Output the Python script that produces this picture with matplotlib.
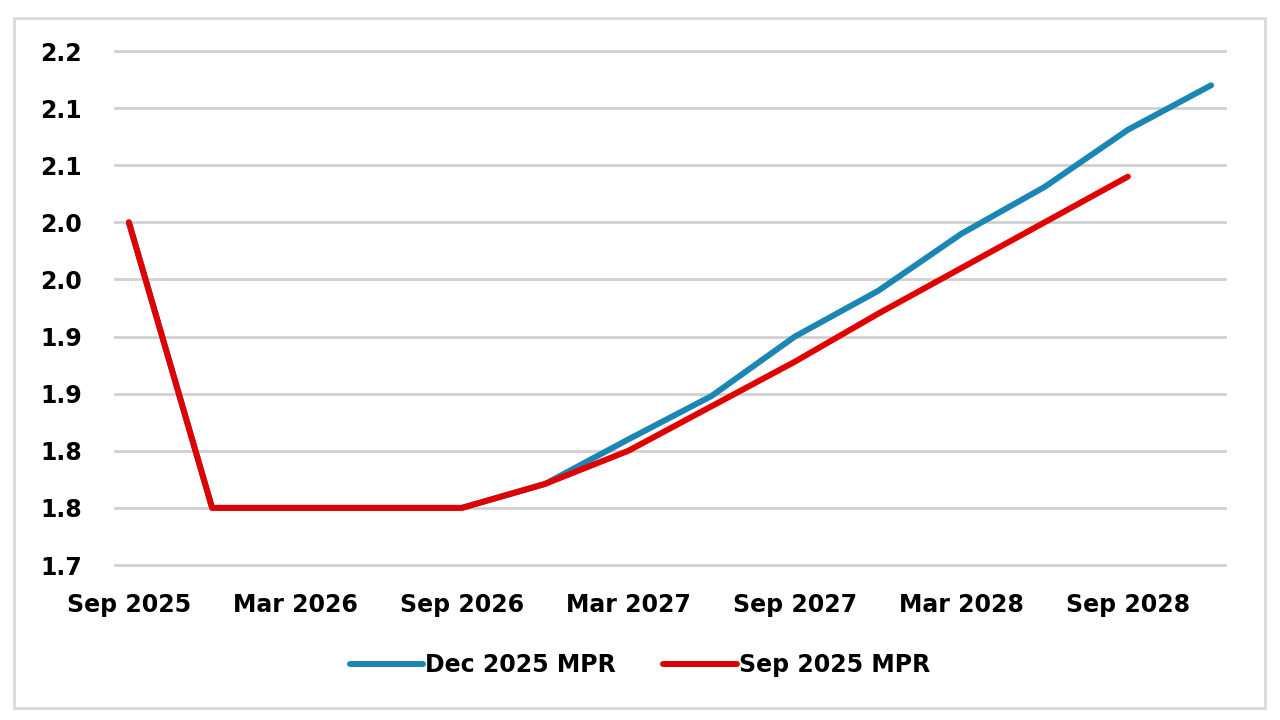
import matplotlib.pyplot as plt
from matplotlib.patches import Rectangle
from decimal import Decimal, ROUND_HALF_UP

# quarterly points, Sep 2025 .. Dec 2028 (month index from Sep 2025)
months = [0, 3, 6, 9, 12, 15, 18, 21, 24, 27, 30, 33, 36, 39]
dec_mpr = [2.00, 1.75, 1.75, 1.75, 1.75, 1.771, 1.81, 1.848, 1.90, 1.94, 1.99, 2.031, 2.081, 2.12]
sep_months = months[:13]
sep_mpr = [2.00, 1.75, 1.75, 1.75, 1.75, 1.771, 1.80, 1.839, 1.878, 1.92, 1.96, 2.00, 2.04]

tick_months = [0, 6, 12, 18, 24, 30, 36]
tick_labels = ["Sep 2025", "Mar 2026", "Sep 2026", "Mar 2027", "Sep 2027", "Mar 2028", "Sep 2028"]
y_ticks = [1.70, 1.75, 1.80, 1.85, 1.90, 1.95, 2.00, 2.05, 2.10, 2.15]

plt.rcParams['font.family'] = ['DejaVu Sans']

fig = plt.figure(figsize=(12.8, 7.2), dpi=100)
ax = fig.add_axes([115 / 1280, 1 - 565 / 720, 1110 / 1280, (565 - 51) / 720])

blue = '#1b86b3'
red = '#e00000'
ax.plot(months, dec_mpr, color=blue, lw=4.3, solid_capstyle='round', solid_joinstyle='round',
        label='Dec 2025 MPR', zorder=3)
ax.plot(sep_months, sep_mpr, color=red, lw=4.3, solid_capstyle='round', solid_joinstyle='round',
        label='Sep 2025 MPR', zorder=4)

ax.set_xlim(-0.5, 39.5)
ax.set_ylim(1.70, 2.15)
ax.set_yticks(y_ticks)
# excel-style rounding to one decimal (half up)
ax.set_yticklabels([str(Decimal(str(v)).quantize(Decimal('0.1'), ROUND_HALF_UP)) for v in y_ticks])
ax.set_xticks(tick_months)
ax.set_xticklabels(tick_labels)
ax.tick_params(length=0, labelsize=17)
ax.tick_params(axis='x', pad=20)
ax.tick_params(axis='y', pad=24)
for lbl in ax.get_xticklabels() + ax.get_yticklabels():
    lbl.set_fontweight('bold')

# horizontal gridlines, not clipped so the edge ones show fully
for y in y_ticks:
    ax.axhline(y, color='#d0d0d0', lw=2, zorder=1, clip_on=False)
for s in ax.spines.values():
    s.set_visible(False)

leg = fig.legend(loc='center', bbox_to_anchor=(0.5, 1 - 665 / 720), ncol=2, frameon=False,
                 prop={'size': 17, 'weight': 'bold'}, handlelength=3.1, handletextpad=0.1,
                 columnspacing=2.0)

fig.patches.append(Rectangle((14 / 1280, 1 - 708 / 720), 1251 / 1280, 690 / 720,
                             transform=fig.transFigure, fill=False, edgecolor='#d9d9d9', lw=2))

fig.savefig('out.png', dpi=100)
